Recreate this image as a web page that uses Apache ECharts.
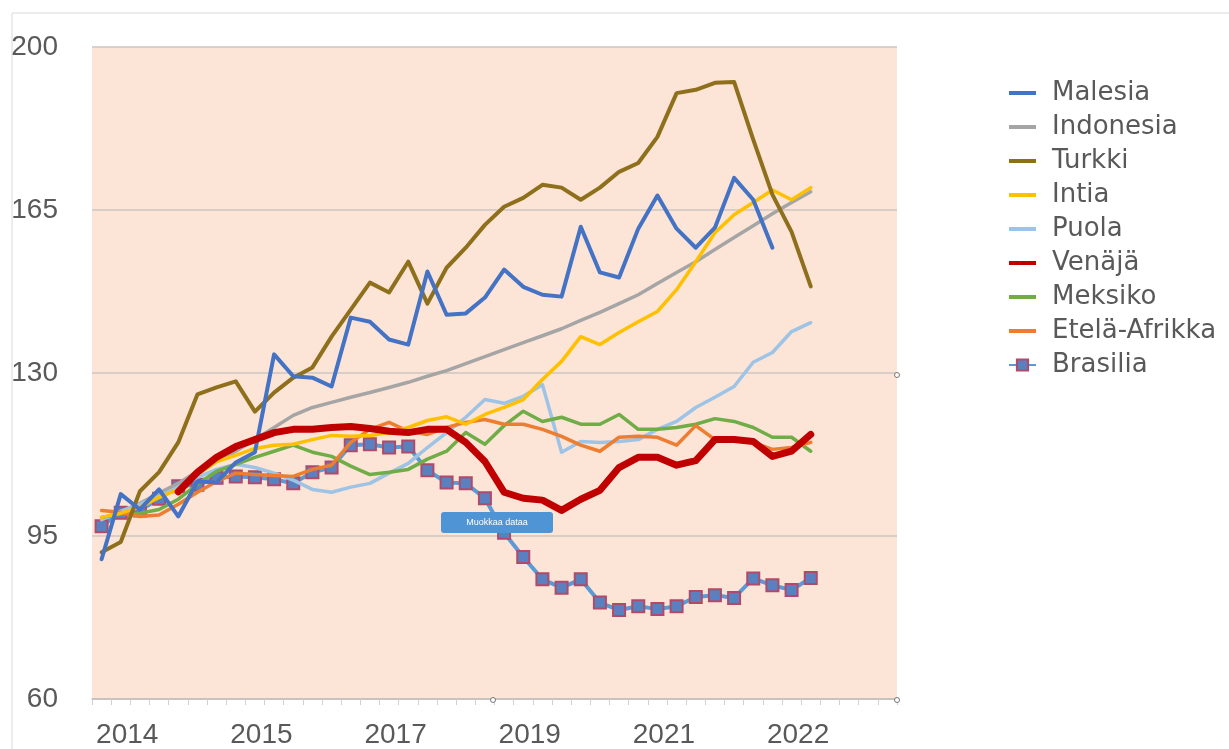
<!DOCTYPE html>
<html>
<head>
<meta charset="utf-8">
<script src="https://cdn.jsdelivr.net/npm/echarts@6/dist/echarts.min.js"></script>
<style>html,body{margin:0;padding:0;background:#fff}#c{width:1229px;height:749px}</style>
</head>
<body>
<div id="c"></div>
<script>
const quarters = ['2013Q4','2014Q1','2014Q2','2014Q3','2014Q4','2015Q1','2015Q2','2015Q3','2015Q4','2016Q1','2016Q2','2016Q3','2016Q4','2017Q1','2017Q2','2017Q3','2017Q4','2018Q1','2018Q2','2018Q3','2018Q4','2019Q1','2019Q2','2019Q3','2019Q4','2020Q1','2020Q2','2020Q3','2020Q4','2021Q1','2021Q2','2021Q3','2021Q4','2022Q1','2022Q2','2022Q3','2022Q4','2023Q1','2023Q2','2023Q3','2023Q4','2024Q1'];
const yTicks = [60, 95, 130, 165, 200];

const malesia = [90.0,104.0,100.7,105.0,99.2,106.7,106.5,110.8,113.0,134.0,129.3,129.0,127.1,141.9,141.0,137.2,136.1,151.8,142.5,142.8,146.2,152.2,148.5,146.8,146.4,161.4,151.6,150.5,161.0,168.1,161.0,156.9,161.2,171.9,167.2,156.9,null,null];
const indonesia = [98.6,100.3,102.0,104.2,106.3,108.9,111.0,113.2,115.7,118.3,120.9,122.6,123.7,124.8,125.8,126.9,128.0,129.3,130.5,132.0,133.5,135.0,136.5,138.0,139.5,141.3,143.0,144.9,146.8,149.2,151.6,153.9,156.5,159.1,161.6,164.2,166.6,168.9];
const turkki = [91.5,93.7,104.6,108.7,115.1,125.4,126.9,128.2,121.7,125.8,129.0,131.2,137.8,143.6,149.4,147.3,153.9,144.9,152.6,156.9,161.8,165.7,167.6,170.4,169.8,167.2,169.8,173.2,175.1,180.7,190.1,190.8,192.3,192.5,180.1,168.3,160.3,148.6];
const intia = [99.0,99.9,101.2,103.3,105.0,108.2,111.0,112.3,113.8,114.5,114.7,115.7,116.6,116.4,116.6,117.2,118.3,119.8,120.6,119.0,121.1,122.6,124.3,128.6,132.5,137.8,136.1,138.7,141.0,143.2,147.9,153.9,160.1,164.0,166.6,169.3,167.2,169.8];
const puola = [98.5,100.3,101.8,103.5,105.5,107.6,109.3,110.4,109.7,108.5,107.0,105.0,104.4,105.5,106.3,108.5,110.6,114.0,117.2,120.5,124.3,123.5,125.0,127.5,113.0,115.3,115.1,115.3,115.7,117.9,119.6,122.6,124.8,127.1,132.3,134.4,138.9,140.8];
const venaja = [null,null,null,null,104.5,108.7,111.9,114.2,115.7,117.2,117.9,117.9,118.3,118.5,118.1,117.5,117.2,117.9,117.9,115.1,111.0,104.4,103.1,102.7,100.5,102.9,104.8,109.7,111.9,111.9,110.2,111.2,115.7,115.7,115.3,112.1,113.2,116.8];
const meksiko = [99.0,99.7,99.9,100.7,102.9,106.1,108.9,110.4,111.9,113.2,114.5,113.0,112.1,110.0,108.2,108.7,109.3,111.5,113.2,117.2,114.7,118.7,121.8,119.6,120.5,119.0,119.0,121.1,117.9,117.9,118.3,119.0,120.2,119.6,118.3,116.2,116.2,113.2];
const etelaAfrikka = [100.5,100.1,99.2,99.5,101.8,104.4,106.7,108.5,108.2,108.0,107.8,109.3,110.2,115.1,117.9,119.4,117.5,116.8,118.3,119.4,120.0,119.0,119.0,117.9,116.4,114.5,113.2,116.2,116.4,116.2,114.5,118.7,115.7,115.7,115.1,113.6,114.0,115.1];
const brasilia = [97.1,100.0,100.5,103.0,105.7,106.0,107.5,107.8,107.6,107.2,106.3,108.7,109.7,114.5,114.7,114.0,114.2,109.1,106.5,106.3,103.1,95.7,90.5,85.7,83.9,85.7,80.7,79.1,79.9,79.3,79.9,81.9,82.3,81.7,85.9,84.4,83.4,86.0];

const seriesDefs = [
  {name:'Malesia', data:malesia, color:'#4472C4', width:4, z:7},
  {name:'Indonesia', data:indonesia, color:'#A5A5A5', width:3.5, z:2},
  {name:'Turkki', data:turkki, color:'#8E6F1B', width:4, z:6},
  {name:'Intia', data:intia, color:'#FFC000', width:3.5, z:5},
  {name:'Puola', data:puola, color:'#9DC3E6', width:3.5, z:2},
  {name:'Venäjä', data:venaja, color:'#C00000', width:7, z:8},
  {name:'Meksiko', data:meksiko, color:'#70AD47', width:3.5, z:3},
  {name:'Etelä-Afrikka', data:etelaAfrikka, color:'#ED7D31', width:3.5, z:4}
];

const series = seriesDefs.map(d => ({
  name: d.name, type: 'line', data: d.data, symbol: 'none', z: d.z,
  itemStyle: {color: d.color},
  lineStyle: {color: d.color, width: d.width, cap: 'round', join: 'round'},
  emphasis: {disabled: true}
}));
series.push({
  name: 'Brasilia', type: 'line', data: brasilia, symbol: 'rect', symbolSize: 12, showSymbol: true, z: 1,
  itemStyle: {color: '#5B80C0', borderColor: '#B04A6A', borderWidth: 2},
  lineStyle: {color: '#5B9BD5', width: 4, join: 'round'},
  emphasis: {disabled: true}
});

const lineIcon = 'path://M0 0H27V4H0Z';
const legendItems = seriesDefs.map(d => ({name: d.name, icon: lineIcon}));
legendItems.push({name: 'Brasilia'});

const chart = echarts.init(document.getElementById('c'), null, {renderer: 'canvas'});
chart.setOption({
  animation: false,
  backgroundColor: '#ffffff',
  grid: {left: 92, top: 47, width: 805, height: 653, show: true, backgroundColor: '#FCE4D6', borderWidth: 0},
  xAxis: {
    type: 'category', data: quarters, boundaryGap: true,
    axisLine: {lineStyle: {color: '#BFBFBF', width: 1.5}},
    axisTick: {show: true, interval: 0, length: 6, lineStyle: {color: '#D0D0D0'}},
    axisLabel: {
      interval: (i) => i % 7 === 1,
      formatter: (v) => v.slice(0, 4),
      fontSize: 28, color: '#595959', fontFamily: 'Liberation Sans', margin: 22, padding: [0, 0, 0, 13]
    },
    splitLine: {show: false}
  },
  yAxis: {
    type: 'value', min: yTicks[0], max: yTicks[yTicks.length - 1], interval: 35,
    axisLine: {show: false}, axisTick: {show: false},
    axisLabel: {fontSize: 28, color: '#595959', fontFamily: 'Liberation Sans', margin: 34},
    splitLine: {lineStyle: {color: '#CDC6C2', width: 1.5}}
  },
  legend: {
    orient: 'vertical', left: 1003, top: 75, itemWidth: 27, itemHeight: 14, itemGap: 8,
    symbolKeepAspect: true,
    textStyle: {fontSize: 26, color: '#595959', fontFamily: 'DejaVu Sans', lineHeight: 26, padding: [0, 0, 0, 11]},
    data: legendItems,
    selectedMode: false
  },
  graphic: [
    {type: 'rect', z: -1, silent: true, shape: {x: 12, y: 13, width: 1300, height: 800}, style: {fill: 'none', stroke: '#D9D9D9', lineWidth: 1}},
    {type: 'rect', z: 100, silent: true, shape: {x: 441, y: 512, width: 112, height: 21, r: 3}, style: {fill: '#4F95D6'}},
    {type: 'text', z: 101, silent: true, x: 497, y: 522.5, style: {text: 'Muokkaa dataa', fill: '#ffffff', fontSize: 9, fontFamily: 'Liberation Sans', align: 'center', verticalAlign: 'middle'}},
    {type: 'circle', z: 100, silent: true, shape: {cx: 897, cy: 375, r: 2.5}, style: {fill: '#fff', stroke: '#777'}},
    {type: 'circle', z: 100, silent: true, shape: {cx: 493, cy: 700, r: 2.5}, style: {fill: '#fff', stroke: '#777'}},
    {type: 'circle', z: 100, silent: true, shape: {cx: 897, cy: 700, r: 2.5}, style: {fill: '#fff', stroke: '#777'}}
  ],
  series: series
});
</script>
</body>
</html>
